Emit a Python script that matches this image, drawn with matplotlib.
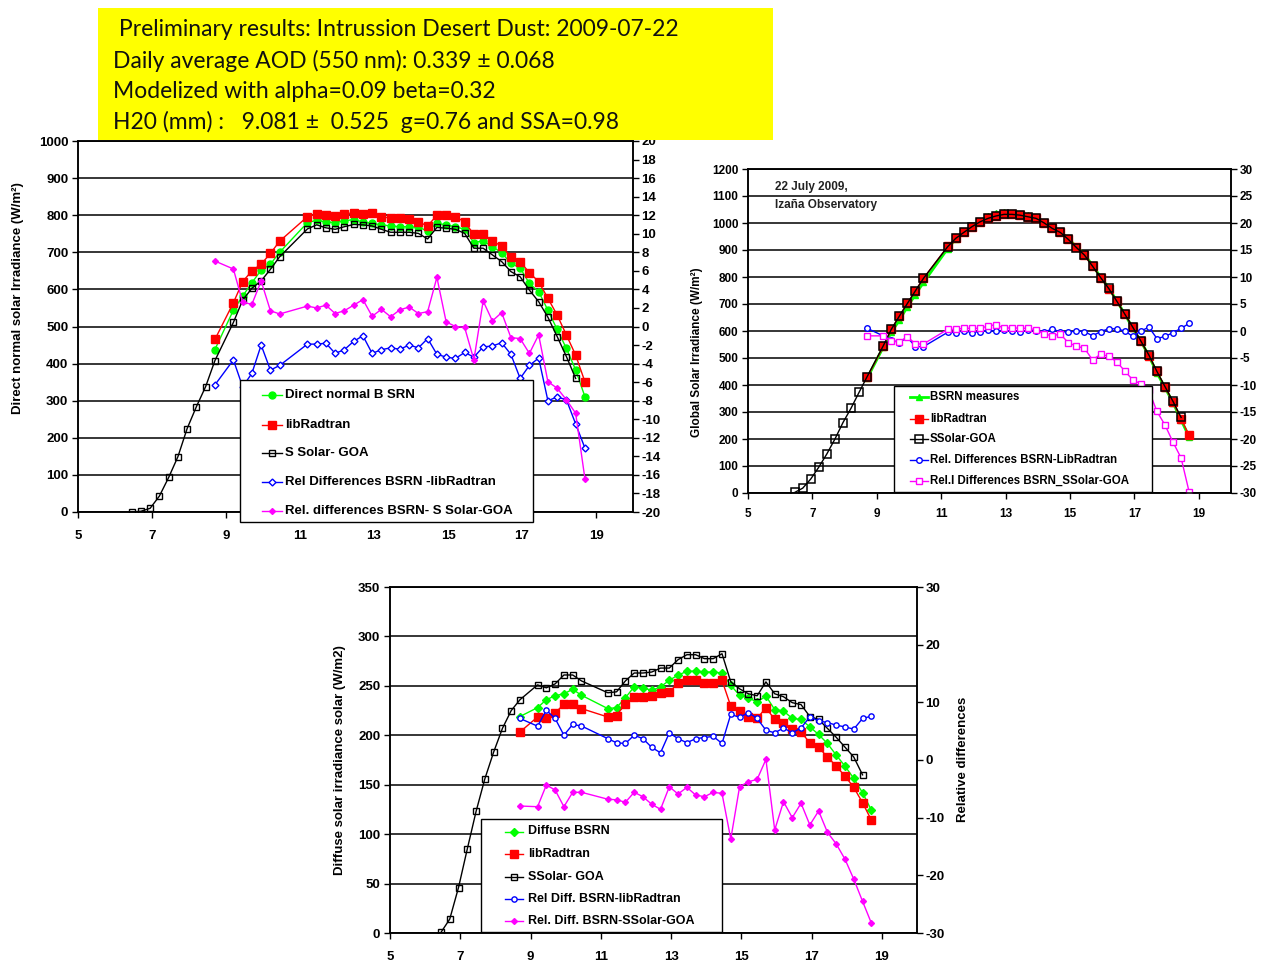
import matplotlib
matplotlib.use("Agg")
import matplotlib.pyplot as plt
from matplotlib.patches import Rectangle
from matplotlib.lines import Line2D
import numpy as np

plt.rcParams['font.family'] = ['Liberation Sans', 'DejaVu Sans']
plt.rcParams['axes.unicode_minus'] = False

# ---------------- data ----------------
# time (hours) for SSolar-GOA series and for the measured/model series
t_ssolar = [6.45, 6.7, 6.95, 7.2, 7.45, 7.7, 7.95, 8.2, 8.45, 8.7, 9.2, 9.45, 9.7, 9.95, 10.2, 10.45,
            11.2, 11.45, 11.7, 11.95, 12.2, 12.45, 12.7, 12.95, 13.2, 13.45, 13.7, 13.95, 14.2, 14.45,
            14.7, 14.95, 15.2, 15.45, 15.7, 15.95, 16.2, 16.45, 16.7, 16.95, 17.2, 17.45, 17.7, 17.95,
            18.2, 18.45]
t_meas = [8.7, 9.2, 9.45, 9.7, 9.95, 10.2, 10.45,
          11.2, 11.45, 11.7, 11.95, 12.2, 12.45, 12.7, 12.95, 13.2, 13.45, 13.7, 13.95, 14.2, 14.45,
          14.7, 14.95, 15.2, 15.45, 15.7, 15.95, 16.2, 16.45, 16.7, 16.95, 17.2, 17.45, 17.7, 17.95,
          18.2, 18.45, 18.7]

# Panel 1: direct normal
dir_ssolar = [0, 2, 10, 43, 93, 149, 225, 284, 338, 408, 511, 571, 603, 623, 654, 688,
              763, 774, 766, 762, 769, 775, 774, 771, 762, 754, 754, 754, 751, 736,
              767, 765, 762, 751, 711, 711, 693, 675, 648, 634, 598, 567, 525, 473, 419, 360]
dir_bsrn = [438, 544, 582, 618, 652, 668, 700,
            780, 786, 782, 780, 785, 788, 782, 778, 774, 771, 769, 769, 767, 758,
            778, 774, 769, 762, 726, 731, 715, 699, 670, 658, 616, 594, 544, 492, 441, 383, 311]
dir_libradtran = [465, 564, 621, 650, 668, 697, 730,
                  796, 803, 800, 798, 803, 807, 803, 807, 796, 792, 792, 789, 782, 771,
                  800, 800, 796, 782, 748, 748, 730, 717, 688, 675, 645, 621, 576, 531, 477, 423, 351]
dir_rel_lib = [-6.3, -3.6, -6.5, -5.05, -2.0, -4.7, -4.2,
               -1.9, -1.9, -1.8, -2.9, -2.5, -1.6, -1.0, -2.9, -2.5, -2.3, -2.45, -2.0, -2.3, -1.3,
               -3.0, -3.3, -3.45, -2.8, -3.3, -2.2, -2.1, -1.75, -3.0, -5.6, -4.2, -3.4, -8.0, -7.6,
               -7.9, -10.5, -13.1]
dir_rel_ssolar = [7.06, 6.2, 2.6, 2.4, 4.9, 1.7, 1.35,
                  2.2, 2.0, 2.3, 1.4, 1.7, 2.3, 2.9, 1.1, 1.85, 1.05, 1.8, 2.1, 1.4, 1.6,
                  5.3, 0.5, 0.0, -0.1, -3.6, 2.75, 0.6, 1.5, -1.2, -1.3, -2.9, -0.9, -5.95, -6.65,
                  -7.9, -9.35, -16.4]

# Panel 2: global
glo_ssolar = [2, 18, 52, 96, 145, 200, 261, 314, 373, 431, 545, 606, 655, 702, 749, 795,
              912, 943, 965, 986, 1004, 1017, 1026, 1032, 1032, 1029, 1023, 1017, 1000, 980,
              965, 939, 909, 881, 840, 798, 758, 711, 663, 614, 563, 511, 450, 394, 339, 280]
glo_bsrn = [425, 540, 595, 640, 690, 735, 780,
            905, 940, 965, 988, 1008, 1025, 1036, 1040, 1038, 1033, 1028, 1020, 1005, 985,
            968, 942, 912, 884, 843, 800, 760, 712, 663, 610, 562, 508, 445, 390, 335, 270, 208]
glo_libradtran = [428, 543, 606, 656, 703, 750, 795,
                  913, 944, 965, 987, 1005, 1018, 1027, 1033, 1033, 1029, 1024, 1017, 1000, 980,
                  965, 940, 910, 880, 840, 798, 757, 711, 662, 614, 562, 508, 450, 393, 336, 275, 213]
glo_rel_lib = [0.5, -0.9, -1.66, -2.16, -1.17, -2.9, -2.9,
               -0.24, -0.3, 0.06, -0.3, -0.1, 0.1, 0.0, 0.1, 0.0, -0.1, 0.1, 0.0, -0.1, 0.3,
               -0.1, -0.2, 0.0, -0.1, -0.9, -0.1, 0.4, 0.4, 0.0, -1.0, 0.0, 0.7, -1.4, -1.0,
               -0.3, 0.5, 1.4]
glo_rel_ssolar = [-0.9, -0.9, -1.85, -2.0, -1.05, -2.4, -2.4,
                  0.3, 0.3, 0.5, 0.5, 0.5, 0.9, 1.2, 0.5, 0.6, 0.5, 0.5, 0.2, -0.55, -0.9,
                  -0.55, -2.2, -2.8, -3.2, -5.36, -4.3, -4.7, -5.7, -7.4, -9.06, -9.8, -11.0, -14.9,
                  -17.4, -20.6, -23.5, -29.8]

# Panel 3: diffuse
dif_ssolar = [0.6, 14, 46, 85, 123, 156, 183, 207, 225, 236, 251, 248, 252, 261, 261, 255,
              243, 244, 255, 263, 263, 264, 268, 268, 276.5, 281.5, 281.5, 277.5, 277.5, 282.5,
              254, 247, 242, 240, 254, 242, 239, 233, 231, 219, 216, 207, 198, 188, 178, 160]
dif_bsrn = [219, 228, 236, 240, 242, 246.5, 240.5,
            227, 228, 238, 249, 248, 245.5, 249, 255.6, 261, 264.6, 265, 264, 264, 263,
            250.5, 240.5, 237.7, 233.7, 239.7, 226, 224.6, 217, 216, 208.5, 200.8, 191.7, 180,
            168.8, 156.4, 141.9, 124.4]
dif_libradtran = [203.4, 218.5, 217, 222.6, 231.4, 232, 227,
                  218.5, 220, 232, 238.7, 238.7, 239.7, 243, 243.8, 252.9, 255.6, 255.6, 253.2, 252.9,
                  255.6, 229.3, 224.3, 218, 217, 228, 216, 212.5, 206.8, 203.4, 192.3, 187.7, 178.2,
                  168.8, 158.7, 147.3, 131.8, 114.3]
dif_rel_lib = [7.2, 5.87, 8.63, 7.2, 4.3, 6.16, 5.9,
               3.7, 2.98, 2.87, 4.3, 3.7, 2.18, 1.25, 4.7, 3.7, 3.0, 3.7, 3.9, 4.1, 2.87,
               7.94, 7.37, 8.23, 7.2, 5.17, 4.7, 5.57, 4.7, 5.57, 7.47, 6.78, 6.5, 6.04, 5.74,
               5.35, 7.2, 7.6]
dif_rel_ssolar = [-7.98, -8.1, -4.34, -5.2, -8.1, -5.6, -5.6,
                  -6.8, -6.9, -7.33, -5.6, -6.37, -7.68, -8.55, -4.64, -5.9, -4.74, -6.07, -6.37,
                  -5.6, -5.8, -13.7, -4.64, -3.77, -3.36, 0.1, -12.13, -7.23, -10.0, -7.5, -11.26,
                  -8.84, -12.53, -14.55, -17.2, -20.66, -24.5, -28.27]

x_ticks = [5, 7, 9, 11, 13, 15, 17, 19]

title_lines = [" Preliminary results: Intrussion Desert Dust: 2009-07-22",
               "Daily average AOD (550 nm): 0.339 \u00b1 0.068",
               "Modelized with alpha=0.09 beta=0.32",
               "H20 (mm) :   9.081 \u00b1  0.525  g=0.76 and SSA=0.98"]

# ---------------- figure ----------------
W, H = 1263, 964
fig = plt.figure(figsize=(W / 100, H / 100), dpi=100)
fig.patch.set_facecolor('white')


def fx(x):
    return x / W


def fy(y):
    return 1 - y / H


def make_axes(l, t, r, b):
    return fig.add_axes([fx(l), fy(b), fx(r) - fx(l), fy(t) - fy(b)])


GREEN, RED, BLUE, MAG = '#00FF00', '#FF0000', '#0000FF', '#FF00FF'


def style(ax, ax2, ylim, yticks, y2lim, y2ticks, fs, xpad):
    ax.set_xlim(5, 20)
    ax.set_xticks(x_ticks)
    ax.set_ylim(*ylim)
    ax.set_yticks(yticks)
    ax2.set_ylim(*y2lim)
    ax2.set_yticks(y2ticks)
    ax.yaxis.grid(True, color='black', lw=1.1)
    ax.set_axisbelow(True)
    for a in (ax, ax2):
        for s in a.spines.values():
            s.set_linewidth(1.1)
            s.set_color('black')
    ax.tick_params(axis='both', direction='out', length=4, width=1, labelsize=fs, pad=3)
    ax2.tick_params(axis='y', direction='out', length=4, width=1, labelsize=fs, pad=2)
    for lab in ax.get_xticklabels() + ax.get_yticklabels() + ax2.get_yticklabels():
        lab.set_fontweight('bold')
    ax.xaxis.set_tick_params(pad=xpad)


def legend_box(handles, labels, box, ys, hx0, hx1, tx, fs):
    x0, y0, x1, y1 = box
    fig.add_artist(Rectangle((fx(x0), fy(y1)), fx(x1) - fx(x0), fy(y0) - fy(y1),
                             transform=fig.transFigure, facecolor='white',
                             edgecolor='black', lw=1.0, zorder=5))
    for h, lab, y in zip(handles, labels, ys):
        fig.add_artist(Line2D([fx(hx0), fx(hx1)], [fy(y), fy(y)], transform=fig.transFigure,
                              color=h.get_color(), lw=h.get_linewidth(), zorder=6))
        fig.add_artist(Line2D([fx((hx0 + hx1) / 2)], [fy(y)], transform=fig.transFigure,
                              marker=h.get_marker(), ms=h.get_markersize(),
                              mfc=h.get_markerfacecolor(), mec=h.get_markeredgecolor(),
                              mew=h.get_markeredgewidth(), ls='none', zorder=7))
        fig.text(fx(tx), fy(y), lab, ha='left', va='center', fontsize=fs,
                 fontweight='bold', zorder=7)


LW = 1.0

# ---------- Panel 1: Direct normal ----------
ax1 = make_axes(78, 141, 633, 512)
ax1b = ax1.twinx()
style(ax1, ax1b, (0, 1000), range(0, 1001, 100), (-20, 20), range(-20, 21, 2), 9.5, 9)
h1 = ax1.plot(t_meas, dir_bsrn, color=GREEN, lw=LW, marker='o', ms=5, mfc=GREEN, mec=GREEN)[0]
h2 = ax1.plot(t_meas, dir_libradtran, color=RED, lw=LW, marker='s', ms=5.2, mfc=RED, mec=RED)[0]
h3 = ax1.plot(t_ssolar, dir_ssolar, color='black', lw=LW, marker='s', ms=5, mfc='none',
              mec='black', mew=1.0)[0]
h4 = ax1b.plot(t_meas, dir_rel_lib, color=BLUE, lw=LW, marker='D', ms=3.5, mfc='white',
               mec=BLUE, mew=1.0)[0]
h5 = ax1b.plot(t_meas, dir_rel_ssolar, color=MAG, lw=LW, marker='D', ms=3.0, mfc=MAG, mec=MAG)[0]
fig.text(fx(18), fy(298), "Direct normal solar Irradiance (W/m\u00b2)", rotation=90,
         ha='center', va='center', fontsize=9.5, fontweight='bold')
legend_box([h1, h2, h3, h4, h5],
           ["Direct normal B SRN", "libRadtran", "S Solar- GOA",
            "Rel Differences BSRN -libRadtran", "Rel. differences BSRN- S Solar-GOA"],
           (240, 380, 533, 522), [395, 424.5, 453, 482, 511], 262, 282, 285, 9.5)

# ---------- Panel 2: Global ----------
ax2 = make_axes(748, 169, 1231, 493)
ax2b = ax2.twinx()
style(ax2, ax2b, (0, 1200), range(0, 1201, 100), (-30, 30), range(-30, 31, 5), 8.5, 7)
g1 = ax2.plot(t_meas, glo_bsrn, color=GREEN, lw=2.0, marker='^', ms=5, mfc=GREEN, mec=GREEN)[0]
g2 = ax2.plot(t_meas, glo_libradtran, color=RED, lw=LW, marker='s', ms=5.8, mfc=RED, mec=RED)[0]
g3 = ax2.plot(t_ssolar, glo_ssolar, color='black', lw=LW, marker='s', ms=5.8, mfc='none',
              mec='black', mew=1.1)[0]
g4 = ax2b.plot(t_meas, glo_rel_lib, color=BLUE, lw=LW, marker='o', ms=4.0, mfc='white',
               mec=BLUE, mew=1.0)[0]
g5 = ax2b.plot(t_meas, glo_rel_ssolar, color=MAG, lw=LW, marker='s', ms=4.3, mfc='white',
               mec=MAG, mew=1.0)[0]
fig.text(fx(697), fy(352), "Global Solar Irradiance (W/m\u00b2)", rotation=90,
         ha='center', va='center', fontsize=8.5, fontweight='bold')
fig.text(fx(775), fy(187), "22 July 2009,", ha='left', va='center', fontsize=8.5,
         fontweight='bold', color='#222222')
fig.text(fx(775), fy(205), "Iza\u00f1a Observatory", ha='left', va='center', fontsize=8.5,
         fontweight='bold', color='#222222')
legend_box([g1, g2, g3, g4, g5],
           ["BSRN measures", "libRadtran", "SSolar-GOA",
            "Rel. Differences BSRN-LibRadtran", "Rel.I Differences BSRN_SSolar-GOA"],
           (894, 386, 1152, 492), [397, 419, 439.5, 460, 480.5], 910, 928, 930, 8.3)

# ---------- Panel 3: Diffuse ----------
ax3 = make_axes(390, 587, 917, 933)
ax3b = ax3.twinx()
style(ax3, ax3b, (0, 350), range(0, 351, 50), (-30, 30), range(-30, 31, 10), 9.5, 9)
d1 = ax3.plot(t_meas, dif_bsrn, color=GREEN, lw=LW, marker='D', ms=4.0, mfc=GREEN, mec=GREEN)[0]
d2 = ax3.plot(t_meas, dif_libradtran, color=RED, lw=LW, marker='s', ms=5.2, mfc=RED, mec=RED)[0]
d3 = ax3.plot(t_ssolar, dif_ssolar, color='black', lw=LW, marker='s', ms=5.0, mfc='none',
              mec='black', mew=1.0)[0]
d4 = ax3b.plot(t_meas, dif_rel_lib, color=BLUE, lw=LW, marker='o', ms=3.8, mfc='white',
               mec=BLUE, mew=1.0)[0]
d5 = ax3b.plot(t_meas, dif_rel_ssolar, color=MAG, lw=LW, marker='D', ms=3.0, mfc=MAG, mec=MAG)[0]
fig.text(fx(340), fy(760), "Diffuse solar irradiance solar (W/m2)", rotation=90,
         ha='center', va='center', fontsize=9.5, fontweight='bold')
fig.text(fx(963), fy(759), "Relative differences", rotation=90,
         ha='center', va='center', fontsize=9.5, fontweight='bold')
legend_box([d1, d2, d3, d4, d5],
           ["Diffuse BSRN", "libRadtran", "SSolar- GOA",
            "Rel Diff. BSRN-libRadtran", "Rel. Diff. BSRN-SSolar-GOA"],
           (481, 819, 722, 932), [831.5, 854, 876.5, 899, 921], 505, 523, 528, 9.0)

# ---------- Title box ----------
fig.add_artist(Rectangle((fx(98), fy(140)), fx(773) - fx(98), fy(8) - fy(140),
                         transform=fig.transFigure, facecolor='#FFFF00',
                         edgecolor='none', zorder=8))
for y, line in zip([30, 61, 91, 122], title_lines):
    fig.text(fx(113), fy(y), line, ha='left', va='center', fontsize=16.5,
             family=['Lato', 'DejaVu Sans'], color='#111111', zorder=9)

fig.savefig("out.png", dpi=100, facecolor='white')
